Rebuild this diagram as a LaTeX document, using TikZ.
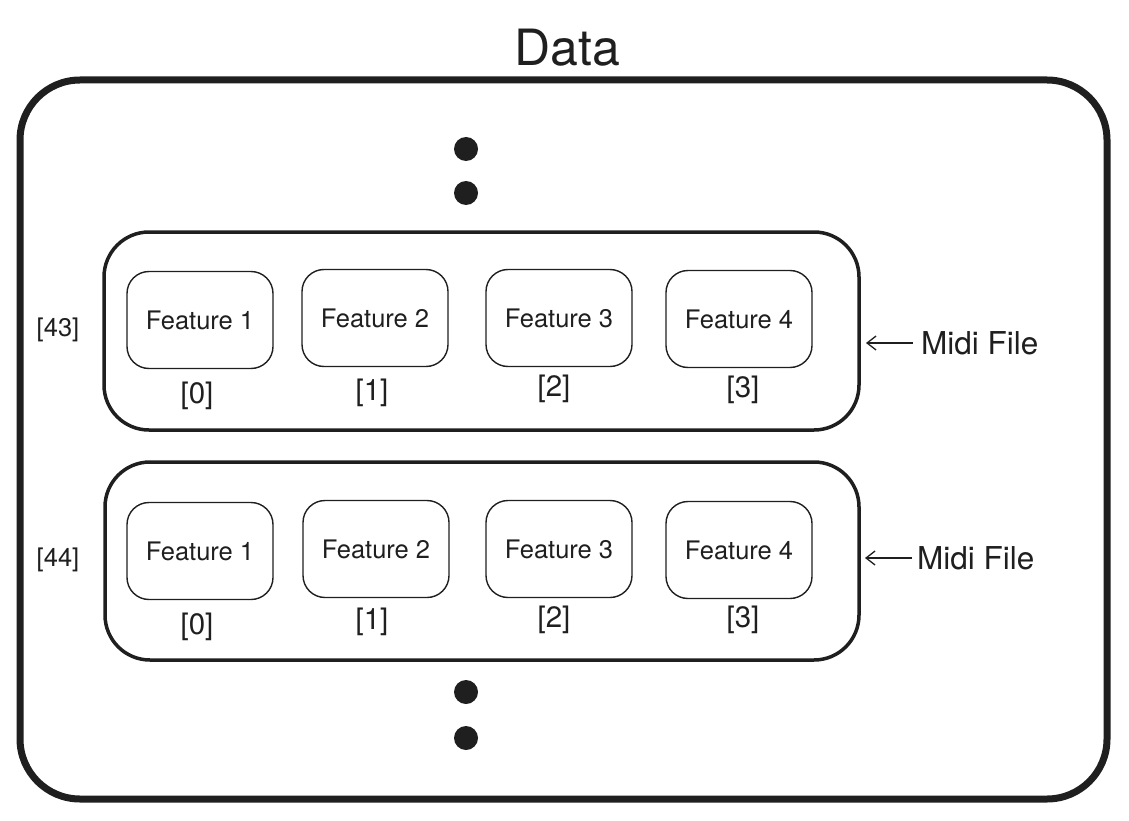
\documentclass[tikz,border=0pt]{standalone}
\usepackage{fontspec}
\setmainfont{TeX Gyre Heros}
\usetikzlibrary{arrows.meta}
\begin{document}
\begin{tikzpicture}[x=1pt,y=-1pt,
  outerbox/.style={draw=black!88,line width=7pt,rounded corners=60pt},
  rowbox/.style={draw=black!88,line width=3.5pt,rounded corners=45pt},
  featbox/.style={draw=black!88,line width=1.4pt,rounded corners=22pt,minimum width=146pt,minimum height=97pt,inner sep=0pt,font=\fontsize{25.5}{28}\selectfont,text=black!88},
  idx/.style={font=\fontsize{29.5}{32}\selectfont,text=black!88,inner sep=0pt},
  rowlbl/.style={font=\fontsize{25.5}{28}\selectfont,text=black!88,inner sep=0pt},
  midi/.style={font=\fontsize{31.5}{34}\selectfont,text=black!88,inner sep=0pt,anchor=west},
  dot/.style={circle,fill=black!88,minimum size=24pt,inner sep=0pt},
  arr/.style={draw=black!88,line width=1.3pt,-{Straight Barb[length=9pt,width=14pt,line width=1.3pt]}}
]
\useasboundingbox (0,0) rectangle (1129,821);
\node[font=\fontsize{50}{56}\selectfont,text=black!88,inner sep=0pt] (title) at (567,48) {Data};
\draw[outerbox] (20,80) rectangle (1107,799);
\node[dot] (d1) at (466,149) {};
\node[dot] (d2) at (466,193) {};
\node[dot] (d3) at (466,692) {};
\node[dot] (d4) at (466,738) {};
% row 1
\draw[rowbox] (104,232) rectangle (859,430);
\node[featbox] (a1) at (200,320) {Feature 1};
\node[featbox] (a2) at (375,318) {Feature 2};
\node[featbox] (a3) at (559,318) {Feature 3};
\node[featbox] (a4) at (739,319) {Feature 4};
\node[idx] (ai1) at (197,396) {[0]};
\node[idx] (ai2) at (372,393) {[1]};
\node[idx] (ai3) at (554,389) {[2]};
\node[idx] (ai4) at (743,390) {[3]};
\node[rowlbl] (r1) at (58,330) {[43]};
\node[midi] (m1) at (921,343) {Midi File};
\coordinate (t1) at (866,343);
\draw[arr] (m1.west) ++(-8,0) -- (t1);
% row 2
\draw[rowbox] (105,462) rectangle (859,660);
\node[featbox] (b1) at (200,551) {Feature 1};
\node[featbox] (b2) at (376,549) {Feature 2};
\node[featbox] (b3) at (559,549) {Feature 3};
\node[featbox] (b4) at (739,550) {Feature 4};
\node[idx] (bi1) at (197,627) {[0]};
\node[idx] (bi2) at (372,622) {[1]};
\node[idx] (bi3) at (554,620) {[2]};
\node[idx] (bi4) at (743,620) {[3]};
\node[rowlbl] (r2) at (58,560) {[44]};
\node[midi] (m2) at (917,558) {Midi File};
\coordinate (t2) at (865,558);
\draw[arr] (m2.west) ++(-5,0) -- (t2);
\end{tikzpicture}
\end{document}
